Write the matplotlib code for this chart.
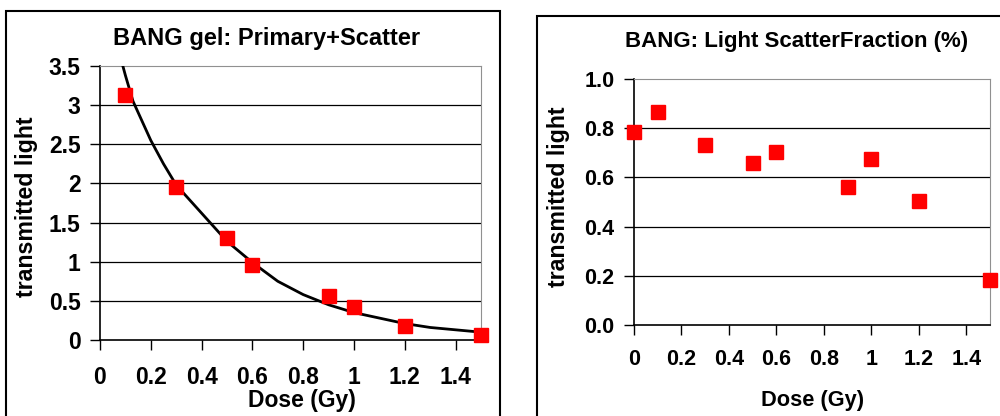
import matplotlib
matplotlib.use("Agg")
import matplotlib.pyplot as plt
from matplotlib.patches import Rectangle

plt.rcParams['font.family'] = ['Liberation Sans', 'DejaVu Sans']
plt.rcParams['font.weight'] = 'bold'

# left panel: primary + scatter
dose_ps = [0.1, 0.3, 0.5, 0.6, 0.9, 1.0, 1.2, 1.5]
light_ps = [3.13, 1.95, 1.30, 0.96, 0.56, 0.42, 0.18, 0.06]
fit_dose = [0.09, 0.1, 0.13, 0.2, 0.25, 0.3, 0.4, 0.5, 0.6, 0.7, 0.8, 0.9,
            1.0, 1.1, 1.2, 1.3, 1.4, 1.5]
fit_light = [3.5, 3.38, 3.05, 2.55, 2.25, 1.98, 1.62, 1.26, 0.99, 0.75, 0.58,
             0.45, 0.35, 0.28, 0.21, 0.16, 0.13, 0.10]

# right panel: scatter fraction
dose_sf = [0.0, 0.1, 0.3, 0.5, 0.6, 0.9, 1.0, 1.2, 1.5]
frac_sf = [0.783, 0.867, 0.732, 0.66, 0.703, 0.562, 0.673, 0.505, 0.183]

x_ticks = [0, 0.2, 0.4, 0.6, 0.8, 1.0, 1.2, 1.4]
x_labels = ['0', '0.2', '0.4', '0.6', '0.8', '1', '1.2', '1.4']
y_ticks_l = [0, 0.5, 1, 1.5, 2, 2.5, 3, 3.5]
y_labels_l = ['0', '0.5', '1', '1.5', '2', '2.5', '3', '3.5']
y_ticks_r = [0.0, 0.2, 0.4, 0.6, 0.8, 1.0]
y_labels_r = ['0.0', '0.2', '0.4', '0.6', '0.8', '1.0']

W, H = 1000, 416
fig = plt.figure(figsize=(10, 4.16), dpi=100)

# outer chart boxes
fig.patches.append(Rectangle((6 / W, -0.1), 494 / W, (H - 11) / H + 0.1,
                             transform=fig.transFigure, fill=False,
                             edgecolor='black', linewidth=1.5))
fig.patches.append(Rectangle((537 / W, -0.1), 0.5, (H - 16) / H + 0.1,
                             transform=fig.transFigure, fill=False,
                             edgecolor='black', linewidth=1.5))


def style(ax, yticks, ylabels, fs, xpad):
    ax.set_xlim(0, 1.5)
    ax.set_xticks(x_ticks)
    ax.set_xticklabels(x_labels)
    ax.set_yticks(yticks)
    ax.set_yticklabels(ylabels)
    ax.set_ylim(yticks[0], yticks[-1])
    for y in yticks[1:-1]:
        ax.axhline(y, color='black', linewidth=0.9, zorder=1)
    ax.spines['top'].set_color('#909090')
    ax.spines['right'].set_color('#909090')
    ax.spines['left'].set_linewidth(1.2)
    ax.spines['bottom'].set_linewidth(1.2)
    ax.tick_params(axis='x', direction='out', length=7, width=1, pad=xpad,
                   labelsize=fs)
    ax.tick_params(axis='y', direction='out', length=7, width=1, pad=7,
                   labelsize=fs)


ax1 = fig.add_axes([100 / W, (H - 340) / H, 381 / W, 274 / H])
style(ax1, y_ticks_l, y_labels_l, 16.5, 12)
ax1.plot(fit_dose, fit_light, color='black', linewidth=2, zorder=3)
ax1.plot(dose_ps, light_ps, 's', color='#ff0000', markersize=10,
         clip_on=False, zorder=4)

ax2 = fig.add_axes([634 / W, (H - 325) / H, 356 / W, 246 / H])
style(ax2, y_ticks_r, y_labels_r, 15.5, 10)
ax2.plot(dose_sf, frac_sf, 's', color='#ff0000', markersize=10,
         clip_on=False, zorder=4)

fig.text(267 / W, 1 - 45 / H, 'BANG gel: Primary+Scatter', ha='center',
         va='baseline', fontsize=17)
fig.text(797 / W, 1 - 47 / H, 'BANG: Light ScatterFraction (%)', ha='center',
         va='baseline', fontsize=16)
fig.text(302 / W, 1 - 407 / H, 'Dose (Gy)', ha='center', va='baseline',
         fontsize=16.5)
fig.text(813 / W, 1 - 406 / H, 'Dose (Gy)', ha='center', va='baseline',
         fontsize=15.7)
fig.text(27 / W, 1 - 207 / H, 'transmitted light', ha='center', va='center',
         rotation=90, fontsize=16.7)
fig.text(558 / W, 1 - 197 / H, 'transmitted light', ha='center',
         va='center', rotation=90, fontsize=16.7)

fig.savefig('out.png', dpi=100)
